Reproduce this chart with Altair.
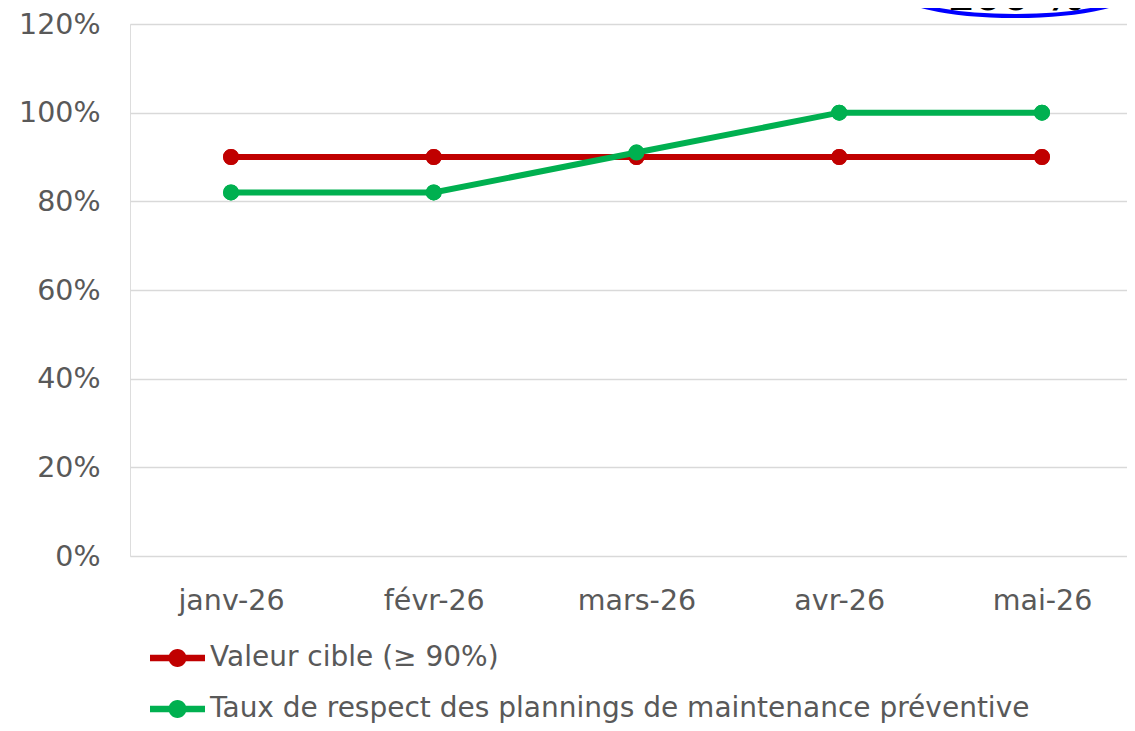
import altair as alt
import pandas as pd

# ---- data ----
months = ["janv-26", "févr-26", "mars-26", "avr-26", "mai-26"]
series_names = ["Valeur cible (≥ 90%)",
                "Taux de respect des plannings de maintenance préventive"]
target_values = [0.90, 0.90, 0.90, 0.90, 0.90]
actual_values = [0.82, 0.82, 0.91, 1.00, 1.00]
series_colors = ["#C00000", "#00B050"]
y_ticks = [0, 0.2, 0.4, 0.6, 0.8, 1.0, 1.2]
annotation_text = ["100 %"]
annotation_month = ["mai-26"]
annotation_level = [1.2835]

rows = []
for m, v in zip(months, target_values):
    rows.append({"mois": m, "serie": series_names[0], "valeur": v})
for m, v in zip(months, actual_values):
    rows.append({"mois": m, "serie": series_names[1], "valeur": v})
df = pd.DataFrame(rows)
ann = pd.DataFrame({"mois": annotation_month, "valeur": annotation_level,
                    "texte": annotation_text})

FONT = "DejaVu Sans"
TXT = "#595959"
GRID = "#D9D9D9"
FS = 28.5
FS_LEG = 28

LEGEND_SYMBOL = ("M-1.1,-0.13L1.1,-0.13L1.1,0.13L-1.1,0.13Z "
                 "M0.36,0A0.36,0.36,0,1,1,-0.36,0A0.36,0.36,0,1,1,0.36,0Z")
ELLIPSE = "M-1,0A1,0.234,0,1,0,1,0A1,0.234,0,1,0,-1,0Z"

PLOT_W = 997

x_scale = alt.Scale(padding=0.4587, align=0.543)
x_enc = alt.X("mois:N", sort=months, title=None, scale=x_scale,
              axis=alt.Axis(labelAngle=0, domain=False, ticks=False, tickSize=0,
                            labelPadding=30, labelFontSize=FS, labelFont=FONT,
                            labelColor=TXT, grid=False))
y_enc = alt.Y("valeur:Q", title=None,
              scale=alt.Scale(domain=[0, 1.2], nice=False, zero=True),
              axis=alt.Axis(values=y_ticks, format=".0%", domain=False, ticks=False,
                            tickSize=0, labelPadding=30, labelFontSize=FS,
                            labelFont=FONT, labelColor=TXT, gridColor=GRID,
                            gridWidth=1.5))
color_enc = alt.Color(
    "serie:N", sort=series_names,
    scale=alt.Scale(domain=series_names, range=series_colors),
    legend=alt.Legend(
        title=None, orient="none", legendX=22.5, legendY=609,
        direction="vertical", symbolType=LEGEND_SYMBOL, symbolSize=2500,
        labelOffset=7.5, rowPadding=12, labelFontSize=FS_LEG, labelFont=FONT,
        labelColor=TXT, labelLimit=2000, padding=0, offset=0,
        symbolStrokeWidth=0, symbolOpacity=1,
    ),
)

base = alt.Chart(df)
# first layer: filled points (defines the legend symbol look)
legend_points = base.mark_point(filled=True, size=254, opacity=1).encode(
    x=x_enc, y=y_enc, color=color_enc)

layers = [legend_points]
for name in series_names:
    sub = base.transform_filter(alt.datum.serie == name)
    layers.append(sub.mark_line(strokeWidth=6).encode(x=x_enc, y=y_enc, color=color_enc))
    layers.append(sub.mark_point(filled=True, size=254, opacity=1).encode(
        x=x_enc, y=y_enc, color=color_enc))

ellipse = alt.Chart(ann).mark_point(
    shape=ELLIPSE, size=248 * 248, filled=False, color="#0000FF",
    strokeWidth=4, opacity=1, xOffset=-27, clip=False
).encode(x=alt.X("mois:N", sort=months, scale=x_scale), y=alt.Y("valeur:Q"))

label = alt.Chart(ann).mark_text(
    font=FONT, fontWeight="bold", fontSize=40, color="black",
    baseline="alphabetic", align="center", dx=-27, dy=23, clip=False
).encode(x=alt.X("mois:N", sort=months, scale=x_scale), y=alt.Y("valeur:Q"),
         text="texte:N")

layers += [ellipse, label]

chart = alt.layer(*layers).properties(
    width=PLOT_W, height=532,
    autosize=alt.AutoSizeParams(type="none"),
    padding={"top": 16, "left": 122, "right": 0, "bottom": 167},
).configure_view(stroke=None).configure(background="white")

chart.save("out.html", embed_options={"renderer": "svg", "actions": False})
